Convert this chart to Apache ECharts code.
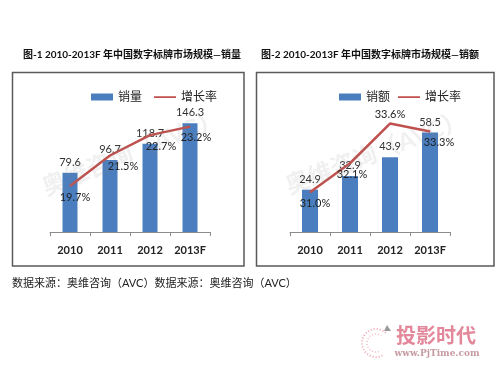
<!DOCTYPE html>
<html>
<head>
<meta charset="utf-8">
<script src="https://cdn.jsdelivr.net/npm/echarts@6/dist/echarts.min.js"></script>
<style>
  html, body { margin: 0; padding: 0; background: #fff; }
  #main { width: 500px; height: 375px; }
</style>
</head>
<body>
<div id="main"></div>
<script>
// 年份
const years = ['2010', '2011', '2012', '2013F'];
// 图-1 销量 / 增长率
const volume = [79.6, 96.7, 118.7, 146.3];
const volumeGrowth = [19.7, 21.5, 22.7, 23.2];
// 图-2 销额 / 增长率
const sales = [24.9, 32.9, 43.9, 58.5];
const salesGrowth = [31.0, 32.1, 33.6, 33.3];

const FONT = "Lato, 'Noto Sans CJK SC', sans-serif";
const BAR = '#4A7EBF';
const LINE = '#C0504D';
// 图例里的细线图标（上下两个极小点撑开包围盒，中间是线）
const LINE_ICON = 'path://M0,0h0.01v0.01h-0.01z M0,2.7h22v1.8h-22z M21.99,7h0.01v0.01h-0.01z';

// 增长率标签的微调（样式）
const labelTweak1 = [{ dx: 5 }, { dx: 13 }, { dx: 11 }, { dx: 6 }];
const labelTweak2 = [{ dx: 5 }, { dx: 2 }, { dx: 0, top: true }, { dx: 9 }];

function growthData(values, tweaks) {
    return values.map((v, i) => ({
        value: v,
        label: {
            position: tweaks[i].top ? 'top' : 'bottom',
            distance: tweaks[i].top ? 3 : 5,
            offset: [tweaks[i].dx, 0]
        }
    }));
}

function xAxisFor(gridIndex) {
    return {
        type: 'category',
        gridIndex: gridIndex,
        data: years,
        axisLine: { lineStyle: { color: '#8c8c8c', width: 1 } },
        axisTick: { show: true, length: 4, lineStyle: { color: '#8c8c8c' } },
        axisLabel: { interval: 0, color: '#222', fontSize: 11, margin: 13, fontFamily: FONT, fontWeight: 'bold' }
    };
}

function growthSeries(xi, yi, values, tweaks) {
    return {
        name: '增长率', type: 'line', xAxisIndex: xi, yAxisIndex: yi,
        data: growthData(values, tweaks),
        symbol: 'circle', symbolSize: 1, showSymbol: true,
        lineStyle: { color: LINE, width: 2.5 },
        itemStyle: { color: LINE },
        label: {
            show: true, fontSize: 11, color: '#222',
            formatter: p => p.value.toFixed(1) + '%'
        },
        z: 3
    };
}

const chart = echarts.init(document.getElementById('main'));

const option = {
    animation: false,
    textStyle: { fontFamily: FONT },
    grid: [
        { left: 50, top: 113, width: 160, height: 119 },
        { left: 290, top: 113, width: 160, height: 119 }
    ],
    legend: [
        {
            left: 86, top: 86, itemWidth: 22, itemHeight: 7, itemGap: 12,
            data: [{ name: '销量', icon: 'rect' }, { name: '增长率', icon: LINE_ICON }],
            textStyle: { fontSize: 12, color: '#222', fontFamily: FONT }
        },
        {
            left: 334, top: 86, itemWidth: 22, itemHeight: 7, itemGap: 8,
            data: [{ name: '销额', icon: 'rect' }, { name: '增长率', icon: LINE_ICON }],
            textStyle: { fontSize: 12, color: '#222', fontFamily: FONT }
        }
    ],
    xAxis: [xAxisFor(0), xAxisFor(1)],
    yAxis: [
        { type: 'value', gridIndex: 0, min: 0, max: 160, show: false },
        { type: 'value', gridIndex: 0, min: 17, max: 24, show: false },
        { type: 'value', gridIndex: 1, min: 0, max: 70, show: false },
        { type: 'value', gridIndex: 1, min: 29.5, max: 34, show: false }
    ],
    series: [
        {
            name: '销量', type: 'bar', xAxisIndex: 0, yAxisIndex: 0,
            data: volume, barWidth: 15,
            itemStyle: { color: BAR },
            label: { show: true, position: 'top', distance: 5, fontSize: 11, color: '#333' }
        },
        growthSeries(0, 1, volumeGrowth, labelTweak1),
        {
            name: '销额', type: 'bar', xAxisIndex: 1, yAxisIndex: 2,
            data: sales, barWidth: 16,
            itemStyle: { color: BAR },
            label: { show: true, position: 'top', distance: 5, fontSize: 11, color: '#333' }
        },
        growthSeries(1, 3, salesGrowth, labelTweak2)
    ],
    graphic: [
        // 边框
        { type: 'rect', shape: { x: 12.5, y: 72.5, width: 231.5, height: 193.5 },
          style: { fill: 'none', stroke: '#5a5a5a', lineWidth: 1.5 }, z: -1 },
        { type: 'rect', shape: { x: 256.5, y: 72.5, width: 237.5, height: 193.5 },
          style: { fill: 'none', stroke: '#5a5a5a', lineWidth: 1.5 }, z: -1 },
        // 标题
        { type: 'text', x: 132, y: 55,
          style: { text: '图-1 2010-2013F 年中国数字标牌市场规模—销量', fill: '#111',
                   font: 'bold 10px ' + FONT, textAlign: 'center', textVerticalAlign: 'middle' } },
        { type: 'text', x: 370, y: 55,
          style: { text: '图-2 2010-2013F 年中国数字标牌市场规模—销额', fill: '#111',
                   font: 'bold 10px ' + FONT, textAlign: 'center', textVerticalAlign: 'middle' } },
        // 水印
        { type: 'text', x: 132, y: 153, rotation: 22 * Math.PI / 180,
          style: { text: '奥维咨询（AVC）', fill: 'rgba(140,140,140,0.13)',
                   font: 'bold 24px ' + FONT, textAlign: 'center', textVerticalAlign: 'middle' }, z: 10 },
        { type: 'text', x: 376, y: 153, rotation: 21 * Math.PI / 180,
          style: { text: '奥维咨询（AVC）', fill: 'rgba(140,140,140,0.13)',
                   font: 'bold 24px ' + FONT, textAlign: 'center', textVerticalAlign: 'middle' }, z: 10 },
        // 数据来源
        { type: 'text', x: 12, y: 283,
          style: { text: '数据来源：奥维咨询（AVC）数据来源：奥维咨询（AVC）', fill: '#222',
                   font: '11px ' + FONT, textVerticalAlign: 'middle' } },
        // 投影时代 标志
        { type: 'arc', shape: { cx: 376, cy: 343, r: 14, startAngle: 0.35 * Math.PI, endAngle: 1.75 * Math.PI },
          style: { fill: 'none', stroke: '#f0a8b4', lineWidth: 2, lineDash: [1, 2] } },
        { type: 'arc', shape: { cx: 376, cy: 343, r: 9, startAngle: 0.4 * Math.PI, endAngle: 1.7 * Math.PI },
          style: { fill: 'none', stroke: '#f3bcc5', lineWidth: 1.5, lineDash: [1, 2] } },
        { type: 'polygon', shape: { points: [[387, 325], [391, 331], [384, 331]] },
          style: { fill: '#9a9a9a' } },
        { type: 'text', x: 436, y: 337,
          style: { text: '投影时代', fill: '#e3889a', font: 'bold 20px ' + FONT,
                   textAlign: 'center', textVerticalAlign: 'middle' } },
        { type: 'text', x: 437, y: 354,
          style: { text: 'www.PjTime.com', fill: '#c69aa3', font: 'bold 9px "DejaVu Serif", serif',
                   textAlign: 'center', textVerticalAlign: 'middle' } }
    ]
};

chart.setOption(option);
</script>
</body>
</html>
